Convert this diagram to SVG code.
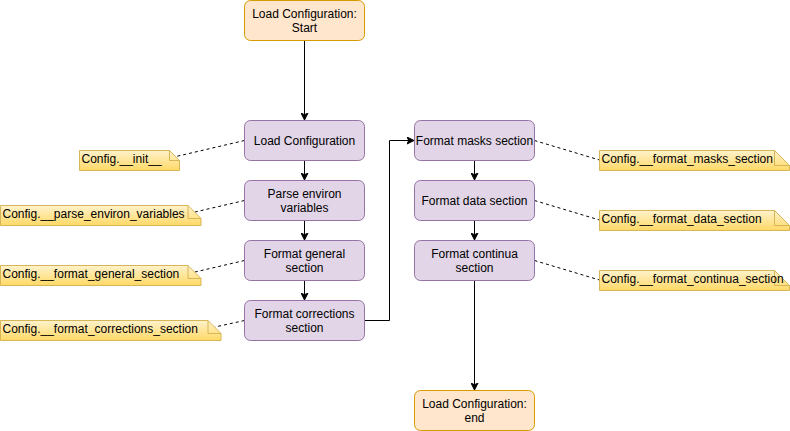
<svg xmlns="http://www.w3.org/2000/svg" width="790" height="431" viewBox="0 0 790 431">
<style>
  .proc{fill:#e1d5e7;stroke:#9673a6;stroke-width:1}
  .term{fill:#ffe6cc;stroke:#d79b00;stroke-width:1}
  .note{fill:url(#noteGrad);stroke:#d6b656;stroke-width:1}
  .fold{fill:none;stroke:#d6b656;stroke-width:1}
  text{font-family:"Liberation Sans",Arial,Helvetica,sans-serif;font-size:12px;fill:#000}
  .c{text-anchor:middle}
  .edge{fill:none;stroke:#000;stroke-width:1}
  .dash{fill:none;stroke:#000;stroke-width:1;stroke-dasharray:3 3}
</style>
<defs>
  <linearGradient id="noteGrad" x1="0" y1="0" x2="0" y2="1">
    <stop offset="0" stop-color="#fff2cc"/>
    <stop offset="1" stop-color="#ffd966"/>
  </linearGradient>
  <marker id="arrow" markerUnits="userSpaceOnUse" markerWidth="8" markerHeight="8" viewBox="0 0 8 8" refX="7" refY="4" orient="auto">
    <path d="M0,0.5 L7,4 L0,7.5 L1.75,4 Z" fill="#000" stroke="#000" stroke-width="1"/>
  </marker>
</defs>
<rect width="790" height="431" fill="#fff"/>

<g id="connectors">
  <path class="edge" d="M304.5,40.5 V120" marker-end="url(#arrow)"/>
  <path class="edge" d="M304.5,160.5 V180" marker-end="url(#arrow)"/>
  <path class="edge" d="M304.5,220.5 V240" marker-end="url(#arrow)"/>
  <path class="edge" d="M304.5,280.5 V300" marker-end="url(#arrow)"/>
  <path class="edge" d="M364.5,320.5 H389.5 V140.5 H414" marker-end="url(#arrow)"/>
  <path class="edge" d="M474.5,160.5 V180" marker-end="url(#arrow)"/>
  <path class="edge" d="M474.5,220.5 V240" marker-end="url(#arrow)"/>
  <path class="edge" d="M474.5,280.5 V390" marker-end="url(#arrow)"/>
  <path class="dash" d="M244.5,140.5 L174,157"/>
  <path class="dash" d="M244.5,200.5 L195,212"/>
  <path class="dash" d="M244.5,260.5 L195,272"/>
  <path class="dash" d="M244.5,320.5 L215,327"/>
  <path class="dash" d="M534.5,140.5 L599.5,160"/>
  <path class="dash" d="M534.5,200.5 L599.5,220"/>
  <path class="dash" d="M534.5,260.5 L599.5,280"/>
</g>

<g id="start">
  <rect class="term" x="244.5" y="0.5" width="120" height="40" rx="6"/>
  <text class="c" x="304.5" y="18">Load Configuration:</text>
  <text class="c" x="304.5" y="32">Start</text>
</g>
<g id="load">
  <rect class="proc" x="244.5" y="120.5" width="120" height="40" rx="6"/>
  <text class="c" x="304.5" y="144.8">Load Configuration</text>
</g>
<g id="parse">
  <rect class="proc" x="244.5" y="180.5" width="120" height="40" rx="6"/>
  <text class="c" x="304.5" y="197.8">Parse environ</text>
  <text class="c" x="304.5" y="211.8">variables</text>
</g>
<g id="general">
  <rect class="proc" x="244.5" y="240.5" width="120" height="40" rx="6"/>
  <text class="c" x="304.5" y="257.8">Format general</text>
  <text class="c" x="304.5" y="271.8">section</text>
</g>
<g id="corrections">
  <rect class="proc" x="244.5" y="300.5" width="120" height="40" rx="6"/>
  <text class="c" x="304.5" y="317.8">Format corrections</text>
  <text class="c" x="304.5" y="331.8">section</text>
</g>
<g id="masks">
  <rect class="proc" x="414.5" y="120.5" width="120" height="40" rx="6"/>
  <text class="c" x="474.5" y="144.8">Format masks section</text>
</g>
<g id="data">
  <rect class="proc" x="414.5" y="180.5" width="120" height="40" rx="6"/>
  <text class="c" x="474.5" y="204.8">Format data section</text>
</g>
<g id="continua">
  <rect class="proc" x="414.5" y="240.5" width="120" height="40" rx="6"/>
  <text class="c" x="474.5" y="257.8">Format continua</text>
  <text class="c" x="474.5" y="271.8">section</text>
</g>
<g id="end">
  <rect class="term" x="414.5" y="390.5" width="120" height="40" rx="6"/>
  <text class="c" x="474.5" y="407.8">Load Configuration:</text>
  <text class="c" x="474.5" y="421.8">end</text>
</g>

<g id="note-init">
  <path class="note" d="M79.5,150.5 H169.5 L179.5,160.5 V170.5 H79.5 Z"/>
  <path class="fold" d="M169.5,150.5 V160.5 H179.5"/>
  <text x="81.5" y="163">Config.__init__</text>
</g>
<g id="note-parse">
  <path class="note" d="M0.5,205.5 H188 L201,218.5 V225.5 H0.5 Z"/>
  <path class="fold" d="M188,205.5 V218.5 H201"/>
  <text x="2.5" y="218">Config.__parse_environ_variables</text>
</g>
<g id="note-general">
  <path class="note" d="M0.5,265.5 H188 L201,278.5 V285.5 H0.5 Z"/>
  <path class="fold" d="M188,265.5 V278.5 H201"/>
  <text x="2.5" y="278">Config.__format_general_section</text>
</g>
<g id="note-corrections">
  <path class="note" d="M0.5,320.5 H208 L221,333.5 V340.5 H0.5 Z"/>
  <path class="fold" d="M208,320.5 V333.5 H221"/>
  <text x="2.5" y="333">Config.__format_corrections_section</text>
</g>
<g id="note-masks">
  <path class="note" d="M599.5,150.5 H774.5 L789.5,165.5 V170.5 H599.5 Z"/>
  <path class="fold" d="M774.5,150.5 V165.5 H789.5"/>
  <text x="601.5" y="163">Config.__format_masks_section</text>
</g>
<g id="note-data">
  <path class="note" d="M599.5,210.5 H774.5 L789.5,225.5 V230.5 H599.5 Z"/>
  <path class="fold" d="M774.5,210.5 V225.5 H789.5"/>
  <text x="601.5" y="223">Config.__format_data_section</text>
</g>
<g id="note-continua">
  <path class="note" d="M599.5,270.5 H774.5 L789.5,285.5 V290.5 H599.5 Z"/>
  <path class="fold" d="M774.5,270.5 V285.5 H789.5"/>
  <text x="601.5" y="283">Config.__format_continua_section</text>
</g>
</svg>
